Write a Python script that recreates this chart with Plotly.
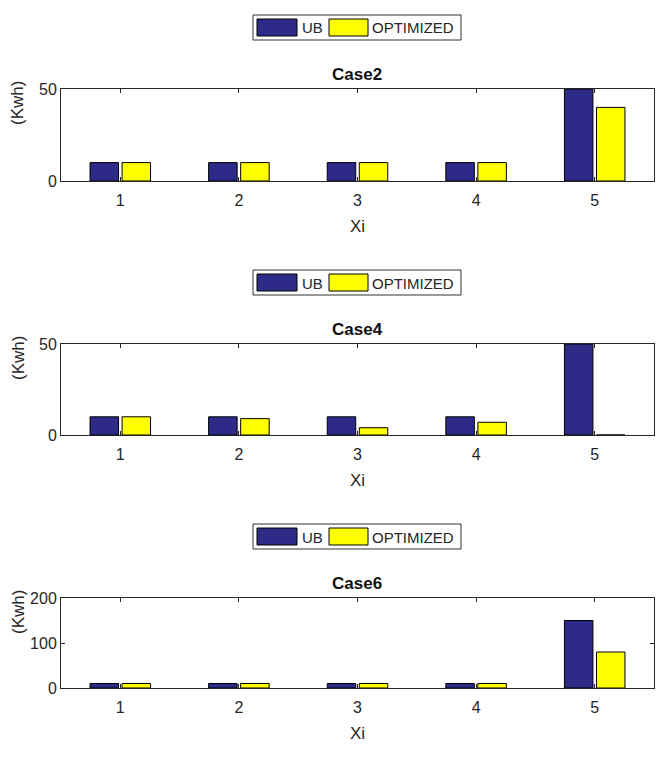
import plotly.graph_objects as go

categories = [1, 2, 3, 4, 5]
case_names = ["Case2", "Case4", "Case6"]
series_names = ["UB", "OPTIMIZED"]
ub_case2 = [10, 10, 10, 10, 50]
opt_case2 = [10, 10, 10, 10, 40]
ub_case4 = [10, 10, 10, 10, 50]
opt_case4 = [10, 9, 4, 7, 0]
ub_case6 = [10, 10, 10, 10, 150]
opt_case6 = [10, 10, 10, 10, 80]
y_ranges = [[0, 50], [0, 50], [0, 200]]
y_ticks = [[0, 50], [0, 50], [0, 100, 200]]

W, H = 666, 758
UB_COLOR = "#2e2a87"
OPT_COLOR = "#ffff00"
AX = "#262626"
FONT = "Liberation Sans, Arial, sans-serif"

# pixel layout (top, bottom) of each plot area
rows = [(89, 181), (344, 435), (598, 688)]
x0, x1 = 61, 654

def px(x):
    return x / W

def py(y):
    return 1 - y / H

fig = go.Figure()
ubs = [ub_case2, ub_case4, ub_case6]
opts = [opt_case2, opt_case4, opt_case6]

for i in range(3):
    sfx = "" if i == 0 else str(i + 1)
    fig.add_trace(go.Bar(x=categories, y=ubs[i], name=series_names[0], marker_color=UB_COLOR,
                         marker_line=dict(color="#000000", width=1),
                         xaxis="x" + sfx, yaxis="y" + sfx, showlegend=False))
    fig.add_trace(go.Bar(x=categories, y=opts[i], name=series_names[1], marker_color=OPT_COLOR,
                         marker_line=dict(color="#000000", width=1),
                         xaxis="x" + sfx, yaxis="y" + sfx, showlegend=False))

layout = dict(
    width=W, height=H, margin=dict(l=0, r=0, t=0, b=0, autoexpand=False),
    paper_bgcolor="white", plot_bgcolor="white",
    barmode="group", bargap=0.46, bargroupgap=0.11,
    font=dict(family=FONT, color=AX, size=16),
    showlegend=False,
)
annotations = []
shapes = []
for i, (top, bot) in enumerate(rows):
    sfx = "" if i == 0 else str(i + 1)
    layout["xaxis" + sfx] = dict(
        domain=[px(x0), px(x1)], range=[0.5, 5.5], anchor="y" + sfx,
        tickvals=categories, ticks="inside", ticklen=4, tickcolor=AX,
        showline=True, linecolor=AX, linewidth=1, mirror="ticks",
        showgrid=False, zeroline=False, automargin=False,
        tickfont=dict(size=16, color=AX), ticklabelstandoff=5,
    )
    layout["yaxis" + sfx] = dict(
        domain=[py(bot), py(top)], range=y_ranges[i], anchor="x" + sfx,
        tickvals=y_ticks[i], ticks="inside", ticklen=4, tickcolor=AX,
        showline=True, linecolor=AX, linewidth=1, mirror="ticks",
        showgrid=False, zeroline=False, automargin=False,
        tickfont=dict(size=16, color=AX),
    )
    # x axis title
    annotations.append(dict(
        text="Xi", x=px(357), y=py(bot + 45), xref="paper", yref="paper",
        showarrow=False, font=dict(size=17, color=AX), xanchor="center", yanchor="middle",
    ))
    # title
    annotations.append(dict(
        text="<b>" + case_names[i] + "</b>", x=px(357), y=py(top - 15),
        xref="paper", yref="paper", showarrow=False, font=dict(size=17, color="#111111"),
        xanchor="center", yanchor="middle",
    ))
    # y label (left part clipped in the original)
    annotations.append(dict(
        text="(Kwh)", x=px(18), y=py(top - 10), xref="paper", yref="paper",
        showarrow=False, textangle=-90, font=dict(size=17, color=AX),
        xanchor="center", yanchor="top",
    ))
    # legend box
    off = top - 89
    shapes.append(dict(type="rect", xref="paper", yref="paper",
                       x0=px(253), x1=px(461), y0=py(off + 15), y1=py(off + 40),
                       line=dict(color="#333333", width=1), fillcolor="white", layer="above"))
    shapes.append(dict(type="rect", xref="paper", yref="paper",
                       x0=px(257), x1=px(297), y0=py(off + 19), y1=py(off + 36),
                       line=dict(color="#000000", width=1), fillcolor=UB_COLOR, layer="above"))
    shapes.append(dict(type="rect", xref="paper", yref="paper",
                       x0=px(329), x1=px(368), y0=py(off + 19), y1=py(off + 36),
                       line=dict(color="#000000", width=1), fillcolor=OPT_COLOR, layer="above"))
    annotations.append(dict(
        text=series_names[0], x=px(300), y=py(off + 28), xref="paper", yref="paper",
        showarrow=False, font=dict(size=15, color=AX), xanchor="left", yanchor="middle",
    ))
    annotations.append(dict(
        text=series_names[1], x=px(370), y=py(off + 28), xref="paper", yref="paper",
        showarrow=False, font=dict(size=15, color=AX), xanchor="left", yanchor="middle",
    ))
layout["annotations"] = annotations
layout["shapes"] = shapes
fig.update_layout(**layout)
fig.write_html("out.html")
